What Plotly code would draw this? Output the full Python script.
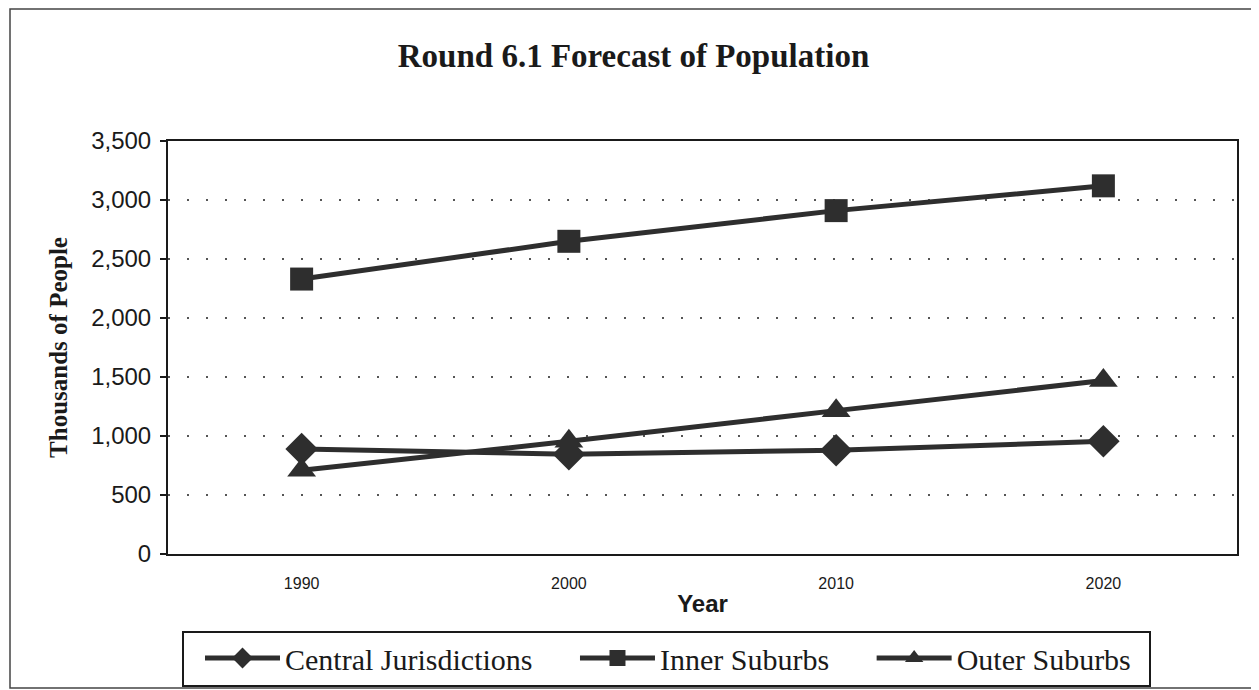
import plotly.graph_objects as go

years = ["1990", "2000", "2010", "2020"]
central = [890, 845, 880, 955]
inner = [2330, 2650, 2910, 3120]
outer = [710, 955, 1215, 1470]
y_ticks = [0, 500, 1000, 1500, 2000, 2500, 3000, 3500]
y_labels = ["0", "500", "1,000", "1,500", "2,000", "2,500", "3,000", "3,500"]
pad = "\u00a0" * 5

LINE = "#2e2e2e"
INK = "#1a1a1a"
series = [
    ("Central Jurisdictions", central, "diamond", 25),
    ("Inner Suburbs", inner, "square", 23),
    ("Outer Suburbs", outer, "triangle-up", 25),
]

fig = go.Figure()
for name, vals, sym, size in series:
    fig.add_trace(go.Scatter(
        x=years, y=vals, name=name + pad, mode="lines+markers",
        line=dict(color=LINE, width=5),
        marker=dict(symbol=sym, size=size, color=LINE, line=dict(width=0)),
    ))

# page has an 8px body margin; work in page pixels and convert
OFF = 8
W, H = 1259 - OFF, 690 - OFF
PL, PR, PT, PB = 168, 1237, 141, 554  # plot area in page pixels
L, R, T, B = PL - OFF, 1259 - PR, PT - OFF, 690 - PB
pw, ph = PR - PL, PB - PT

def px_x(p):
    return (p - PL) / pw

def px_y(p):
    return (PB - p) / ph

fig.update_layout(
    width=W, height=H,
    margin=dict(l=L, r=R, t=T, b=B, autoexpand=False),
    paper_bgcolor="white", plot_bgcolor="white",
    title=dict(text="<b>Round 6.1 Forecast of Population</b>",
               x=0.5, xanchor="center", y=1 - (55 - OFF) / H, yanchor="middle",
               font=dict(family="Liberation Serif", size=33, color=INK)),
    xaxis=dict(type="category", range=[-0.5, 3.5], showgrid=False,
               showline=True, linecolor=INK, linewidth=2, mirror=True,
               ticks="", tickfont=dict(family="Liberation Sans", size=16, color=INK),
               ticklabelstandoff=14,
               title=dict(text="<b>Year</b>", standoff=4,
                          font=dict(family="Liberation Sans", size=24, color=INK))),
    yaxis=dict(range=[0, 3500], tickvals=y_ticks, ticktext=y_labels,
               showgrid=True, gridcolor="#555555", gridwidth=1.5, griddash="2px,17px",
               showline=True, linecolor=INK, linewidth=2, mirror=True,
               ticks="outside", ticklen=6, tickcolor=INK, tickwidth=1.5,
               tickfont=dict(family="Liberation Sans", size=24, color=INK),
               ticklabelstandoff=4,
               zeroline=False,
               title=dict(text="<b>Thousands of People</b>", standoff=16,
                          font=dict(family="Liberation Serif", size=25, color=INK))),
    legend=dict(orientation="h", x=px_x(200), xanchor="left",
                y=px_y(632), yanchor="top",
                borderwidth=0, bgcolor="rgba(0,0,0,0)",
                itemwidth=75, tracegroupgap=0,
                font=dict(family="Liberation Serif", size=30, color=INK)),
    shapes=[
        dict(type="rect", xref="paper", yref="paper",
             x0=px_x(10), x1=px_x(1257), y0=px_y(688), y1=px_y(9),
             line=dict(color="#444444", width=1.5), layer="below"),
        dict(type="rect", xref="paper", yref="paper",
             x0=px_x(183), x1=px_x(1150), y0=px_y(686), y1=px_y(632),
             line=dict(color=INK, width=2), fillcolor="white", layer="below"),
    ],
    showlegend=True,
)

fig.write_html("out.html")
